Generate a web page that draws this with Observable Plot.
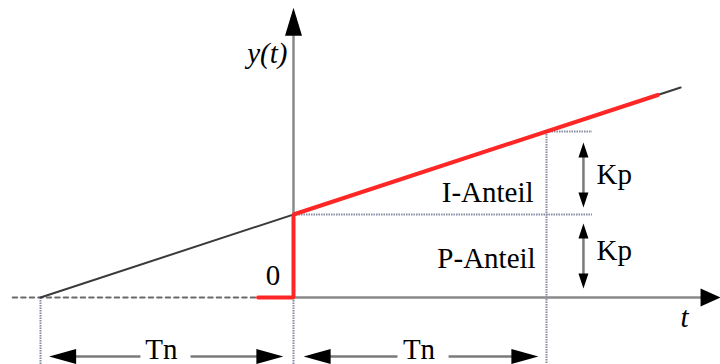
<!DOCTYPE html>
<html>
<head>
<meta charset="utf-8">
<script src="https://cdn.jsdelivr.net/npm/d3@7"></script>
<script src="https://cdn.jsdelivr.net/npm/@observablehq/plot@0.6"></script>
<style>
  html, body { margin: 0; padding: 0; background: #fff; font-family: "Liberation Serif", serif; }
  #chart svg { display: block; }
  #chart svg text { font-family: "Liberation Serif", "Times New Roman", serif !important; }
  #fontwarm { position: absolute; left: -2000px; top: 0; font-family: "Liberation Serif"; font-size: 29px; }
</style>
</head>
<body>
<div id="fontwarm" aria-hidden="true">Tn Kp <i>y(t) t</i></div>
<div id="chart"></div>
<script>
// Units: t in multiples of Tn, y in multiples of Kp
const blackRamp = [[-1, 0], [1.53, 2.53]];
const redResponse = [[-0.14, 0], [0, 0], [0, 1], [1.44, 2.44]];
const negDashed = [[-1.11, 0], [-0.15, 0]];

const axisLines = [
  {x1: 0, y1: -0.02, x2: 0, y2: 3.16},      // y axis
  {x1: 0, y1: 0, x2: 1.62, y2: 0}           // t axis
];
const guideLines = [
  {x1: 0, y1: 1, x2: 1.18, y2: 1},
  {x1: 1, y1: 2, x2: 1.18, y2: 2},
  {x1: 1, y1: 2, x2: 1, y2: -0.81},
  {x1: 0, y1: 0, x2: 0, y2: -0.81},
  {x1: -1, y1: 0, x2: -1, y2: -0.81}
];
const dimShafts = [
  {x1: 1.146, y1: 1.80, x2: 1.146, y2: 1.15},
  {x1: 1.146, y1: 0.83, x2: 1.146, y2: 0.17},
  {x1: -0.93, y1: -0.711, x2: -0.605, y2: -0.711},
  {x1: -0.407, y1: -0.711, x2: -0.08, y2: -0.711},
  {x1: 0.08, y1: -0.711, x2: 0.411, y2: -0.711},
  {x1: 0.613, y1: -0.711, x2: 0.93, y2: -0.711}
];
// arrowheads: tip position, direction, kind
const heads = [
  {t: 0, y: 3.49, dir: "up", kind: "big"},
  {t: 1.688, y: 0, dir: "right", kind: "axis"},
  {t: 1.146, y: 1.867, dir: "up", kind: "small"},
  {t: 1.146, y: 1.084, dir: "down", kind: "small"},
  {t: 1.146, y: 0.892, dir: "up", kind: "small"},
  {t: 1.146, y: 0.108, dir: "down", kind: "small"},
  {t: -0.966, y: -0.711, dir: "left", kind: "dim"},
  {t: -0.04, y: -0.711, dir: "right", kind: "dim"},
  {t: 0.04, y: -0.711, dir: "left", kind: "dim"},
  {t: 0.968, y: -0.711, dir: "right", kind: "dim"}
];
const headSizes = {big: [28, 17], axis: [20, 18], small: [15, 10], dim: [27, 15]};

const italicLabels = [
  {t: -0.024, y: 2.82, text: "y(t)", anchor: "end"},
  {t: 1.53, y: -0.35, text: "t", anchor: "start"}
];
const endLabels = [
  {t: 0.949, y: 1.145, text: "I-Anteil"},
  {t: 0.957, y: 0.361, text: "P-Anteil"}
];
const startLabels = [
  {t: 1.198, y: 1.373, text: "Kp"},
  {t: 1.198, y: 0.446, text: "Kp"}
];
const middleLabels = [
  {t: -0.081, y: 0.145, text: "0"},
  {t: -0.522, y: -0.735, text: "Tn"},
  {t: 0.496, y: -0.735, text: "Tn"}
];

function headSymbol(dir, len, wid) {
  const w = wid / 2;
  return {
    draw(ctx) {
      ctx.moveTo(0, 0);
      if (dir === "up") { ctx.lineTo(-w, len); ctx.lineTo(w, len); }
      else if (dir === "down") { ctx.lineTo(-w, -len); ctx.lineTo(w, -len); }
      else if (dir === "right") { ctx.lineTo(-len, -w); ctx.lineTo(-len, w); }
      else { ctx.lineTo(len, -w); ctx.lineTo(len, w); }
      ctx.closePath();
    }
  };
}

const headMarks = [];
for (const kind of Object.keys(headSizes)) {
  for (const dir of ["up", "down", "left", "right"]) {
    const sub = heads.filter(h => h.kind === kind && h.dir === dir);
    if (!sub.length) continue;
    const [len, wid] = headSizes[kind];
    headMarks.push(Plot.dot(sub, {
      x: "t", y: "y", symbol: headSymbol(dir, len, wid), fill: "#000", stroke: "none"
    }));
  }
}

const textOpts = {x: "t", y: "y", text: "text", lineAnchor: "bottom",
  fontSize: 29, fontFamily: "Liberation Serif", fill: "#000"};

const chart = Plot.plot({
  width: 720,
  height: 364,
  margin: 0,
  style: {background: "#fff", overflow: "visible"},
  x: {domain: [0, 1], range: [293, 546], axis: null},
  y: {domain: [0, 1], range: [297, 214], axis: null},
  marks: [
    Plot.link(guideLines, {x1: "x1", y1: "y1", x2: "x2", y2: "y2", stroke: "#858ba0", strokeWidth: 2, strokeDasharray: "1.5,1"}),
    Plot.line(negDashed, {x: d => d[0], y: d => d[1], stroke: "#6a6a6a", strokeWidth: 2, strokeDasharray: "4.5,4"}),
    Plot.link(axisLines, {x1: "x1", y1: "y1", x2: "x2", y2: "y2", stroke: "#8a8a8a", strokeWidth: 2.5}),
    Plot.link(dimShafts, {x1: "x1", y1: "y1", x2: "x2", y2: "y2", stroke: "#7a7a7a", strokeWidth: 2.5}),
    Plot.line(blackRamp, {x: d => d[0], y: d => d[1], stroke: "#3a3a3a", strokeWidth: 2}),
    Plot.line(redResponse, {x: d => d[0], y: d => d[1], stroke: "#ff2626", strokeWidth: 4, strokeLinejoin: "miter"}),
    ...headMarks,
    Plot.text(endLabels, {...textOpts, textAnchor: "end", fontStyle: "normal"}),
    Plot.text(startLabels, {...textOpts, textAnchor: "start", fontStyle: "normal"}),
    Plot.text(middleLabels, {...textOpts, textAnchor: "middle", fontStyle: "normal"}),
    Plot.text(italicLabels.filter(d => d.anchor === "end"), {...textOpts, textAnchor: "end", fontStyle: "italic"}),
    Plot.text(italicLabels.filter(d => d.anchor === "start"), {...textOpts, textAnchor: "start", fontStyle: "italic"})
  ]
});
chart.querySelectorAll("text").forEach(el => {
  el.style.setProperty("font-family", '"Liberation Serif", "Times New Roman", serif', "important");
});
document.getElementById("chart").appendChild(chart);
</script>
</body>
</html>
